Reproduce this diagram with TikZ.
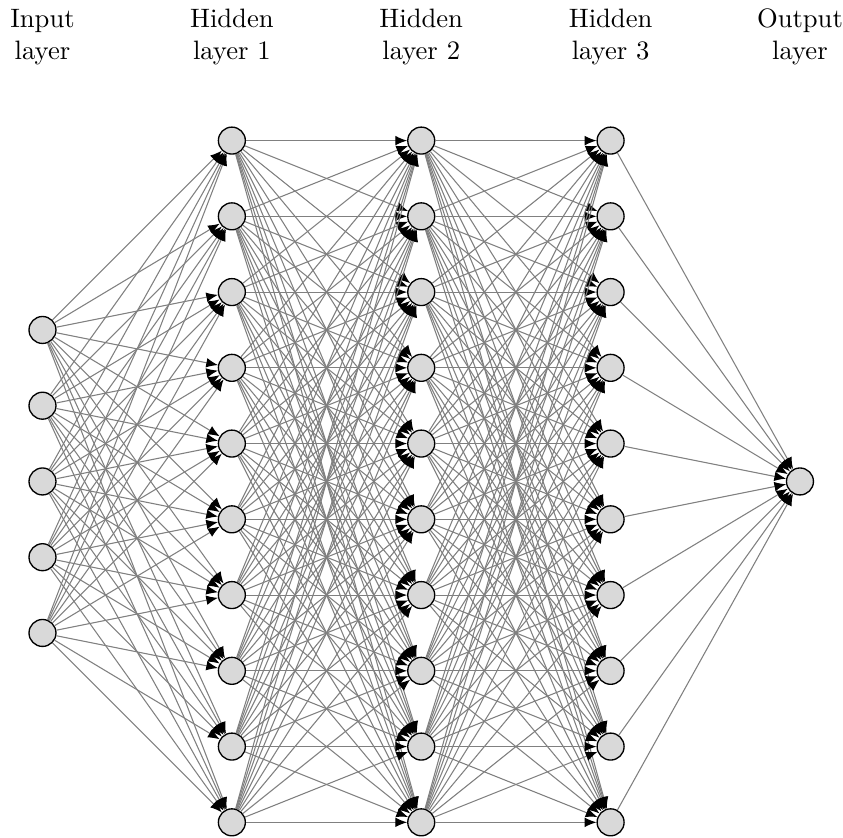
\documentclass[tikz,border=0pt]{standalone}
\usetikzlibrary{arrows.meta}
\tikzset{
  neuron/.style={circle,draw=black,line width=0.5pt,fill=gray!30,minimum size=0.356cm,inner sep=0pt},
  conn/.style={draw=gray,line width=0.4pt,-{Latex[black,length=4.4pt,width=3.6pt]}},
  layerlabel/.style={align=center,inner sep=0pt}
}
\begin{document}
\begin{tikzpicture}
\useasboundingbox (0,0) rectangle (11.129,-11.050);
\def\xa{0.561}
\def\yc{-6.356}
% input layer
\foreach \k in {1,...,5}
  \node[neuron] (I-\k) at (\xa, {\yc-(\k-3)}) {};
% hidden layers
\foreach \l in {1,2,3}
  \foreach \k in {1,...,10}
    \node[neuron] (H\l-\k) at ({\xa+2.5*\l}, {\yc-(\k-5.5)}) {};
% output
\node[neuron] (O) at ({\xa+10}, \yc) {};
% connections
\foreach \i in {1,...,5}
  \foreach \j in {1,...,10}
    \draw[conn] (I-\i) -- (H1-\j);
\foreach \l/\m in {1/2,2/3}
  \foreach \i in {1,...,10}
    \foreach \j in {1,...,10}
      \draw[conn] (H\l-\i) -- (H\m-\j);
\foreach \i in {1,...,10}
  \draw[conn] (H3-\i) -- (O);
% labels
\node[layerlabel] (L0) at (\xa,-0.49) {Input\\layer};
\node[layerlabel] (L1) at ({\xa+2.5},-0.49) {Hidden\\layer 1};
\node[layerlabel] (L2) at ({\xa+5},-0.49) {Hidden\\layer 2};
\node[layerlabel] (L3) at ({\xa+7.5},-0.49) {Hidden\\layer 3};
\node[layerlabel] (L4) at ({\xa+10},-0.49) {Output\\layer};
\end{tikzpicture}
\end{document}
